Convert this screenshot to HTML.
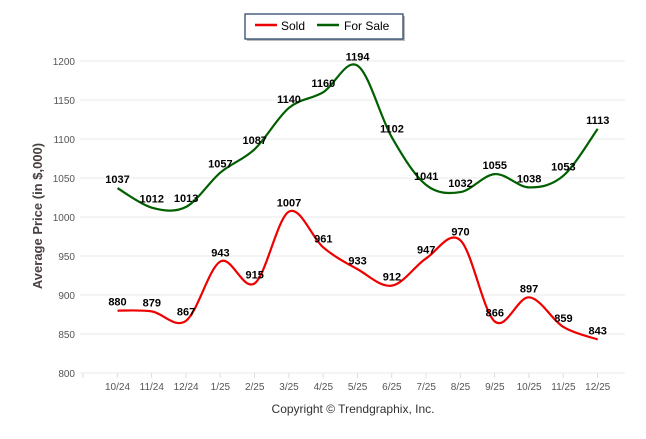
<!DOCTYPE html>
<html><head><meta charset="utf-8"><style>
body{margin:0;background:#fff;font-family:"Liberation Sans",sans-serif}
svg text{font-family:"Liberation Sans",sans-serif}
</style></head><body>
<svg id="c" width="646" height="434">
<rect x="247" y="16" width="158" height="25" fill="#bbb"/>
<rect x="245" y="14" width="158" height="25" fill="#fff" stroke="#1f3a5f" stroke-width="1.2"/>
<line x1="255" y1="25" x2="277" y2="25" stroke="#e00" stroke-width="2.5"/>
<text x="281" y="30" font-size="12">Sold</text>
<line x1="317" y1="25" x2="339" y2="25" stroke="#006000" stroke-width="2.5"/>
<text x="344" y="30" font-size="12">For Sale</text>
<text transform="translate(42,216) rotate(-90)" text-anchor="middle" font-size="13" font-weight="bold" fill="#4a4040">Average Price (in $,000)</text>
<text x="353" y="413" text-anchor="middle" font-size="12" fill="#333">Copyright © Trendgraphix, Inc.</text>
<g id="grid"></g><g id="lines"></g><g id="labels"></g>
</svg>
<script>
const categories=["10/24","11/24","12/24","1/25","2/25","3/25","4/25","5/25","6/25","7/25","8/25","9/25","10/25","11/25","12/25"];
const sold=[880,879,867,943,915,1007,961,933,912,947,970,866,897,859,843];
const forSale=[1037,1012,1013,1057,1087,1140,1160,1194,1102,1041,1032,1055,1038,1053,1113];
const yTicks=[800,850,900,950,1000,1050,1100,1150,1200];
const NS="http://www.w3.org/2000/svg";
const y=v=>373-(v-800)*0.78;
const x=i=>117.5+i*34.3;
function mk(t,a,p){const e=document.createElementNS(NS,t);for(const k in a)e.setAttribute(k,a[k]);p.appendChild(e);return e;}
const grid=document.getElementById('grid');
yTicks.forEach(v=>{
 const l=mk('line',{x1:80,x2:625,y1:y(v),y2:y(v),stroke:'#e8e8e8','stroke-width':1},grid);
 
 
 const t=mk('text',{x:75,y:y(v)+4,'text-anchor':'end','font-size':10,fill:'#555'},grid);t.textContent=v;
 
 
});
for(let i=0;i<=15;i++){const tx=83+i*34.3;mk('line',{x1:tx,x2:tx,y1:373,y2:378,stroke:'#ddd'},grid);}
categories.forEach((c,i)=>{
 const t=mk('text',{x:x(i),y:390,'text-anchor':'middle','font-size':10,fill:'#555'},grid);t.textContent=c;
 
 
});
function path(vals){
 const p=vals.map((v,i)=>[x(i),y(v)]);let d='M'+p[0][0]+','+p[0][1];
 for(let i=0;i<p.length-1;i++){const p0=p[i-1]||p[i],p1=p[i],p2=p[i+1],p3=p[i+2]||p2;
  const c1=[p1[0]+(p2[0]-p0[0])/6,p1[1]+(p2[1]-p0[1])/6],c2=[p2[0]-(p3[0]-p1[0])/6,p2[1]-(p3[1]-p1[1])/6];
  d+=` C${c1[0]},${c1[1]} ${c2[0]},${c2[1]} ${p2[0]},${p2[1]}`;}
 return d;}
const lines=document.getElementById('lines'),labels=document.getElementById('labels');
[[forSale,'#006000','for-sale'],[sold,'#e00','sold']].forEach(([vals,col,n])=>{
 const p=mk('path',{d:path(vals),fill:'none',stroke:col,'stroke-width':2.2},lines);
 
 
 vals.forEach((v,i)=>{const t=mk('text',{x:x(i),y:y(v)-5,'text-anchor':'middle','font-size':11,'font-weight':'bold',fill:'#000'},labels);t.textContent=v;
  
  });
});
</script>
</body></html>
